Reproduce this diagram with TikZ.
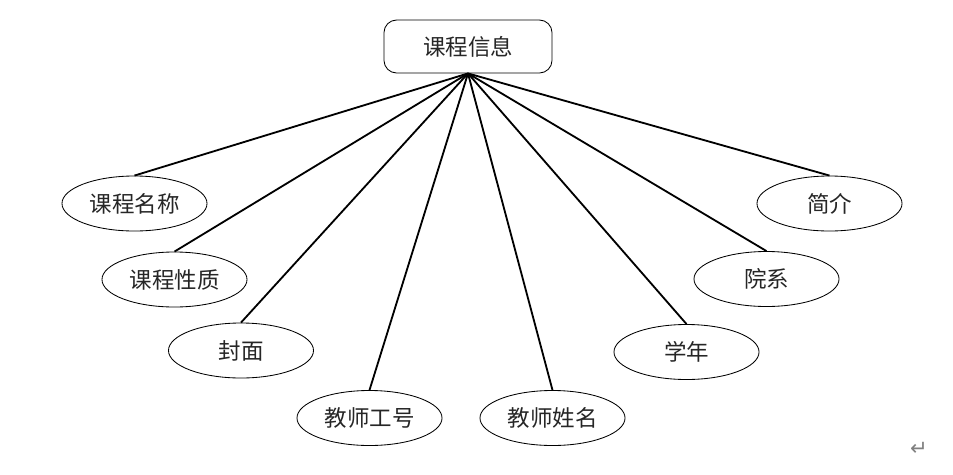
\documentclass[tikz,border=0pt]{standalone}
\usepackage{fontspec}
\usepackage{xcolor}
\usepackage{tikz}
\usetikzlibrary{positioning,shapes.geometric}
\newfontfamily\cjk{Noto Sans CJK SC}
\newfontfamily\symfont{DejaVu Sans}

\begin{document}
\begin{tikzpicture}[
        x=0.025cm, y=-0.025cm,
        entity/.style={
            draw,
            rounded corners=9pt,
            line width=0.6pt,
            minimum width=4.2cm,
            minimum height=1.325cm,
            text=black!85,
            font=\cjk\fontsize{16}{18}\selectfont
        },
        attr/.style={
            draw,
            ellipse,
            line width=0.6pt,
            minimum width=3.625cm,
            minimum height=1.375cm,
            inner sep=0pt,
            text=black!85,
            font=\cjk\fontsize{16}{18}\selectfont
        },
        link/.style={line width=1.3pt}
    ]
        \useasboundingbox (0,0) rectangle (953,474);

        \node[entity] (course) at (468,46.5) {课程信息};

        \node[attr] (name) at (134.5,203.5) {课程名称};
        \node[attr] (nature) at (174.5,279.5) {课程性质};
        \node[attr] (cover) at (241,350.5) {封面};
        \node[attr] (tid) at (369.5,418) {教师工号};
        \node[attr] (tname) at (552.5,418) {教师姓名};
        \node[attr] (year) at (686.5,352) {学年};
        \node[attr] (dept) at (766.5,279) {院系};
        \node[attr] (intro) at (829.5,203.5) {简介};

        \node[text=gray, font=\symfont\fontsize{15}{16}\selectfont] (mark) at (919,449) {↵};

        \draw[link] (course.south) -- (name.north);
        \draw[link] (course.south) -- (nature.north);
        \draw[link] (course.south) -- (cover.north);
        \draw[link] (course.south) -- (tid.north);
        \draw[link] (course.south) -- (tname.north);
        \draw[link] (course.south) -- (year.north);
        \draw[link] (course.south) -- (dept.north);
        \draw[link] (course.south) -- (intro.north);
    \end{tikzpicture}
\end{document}
